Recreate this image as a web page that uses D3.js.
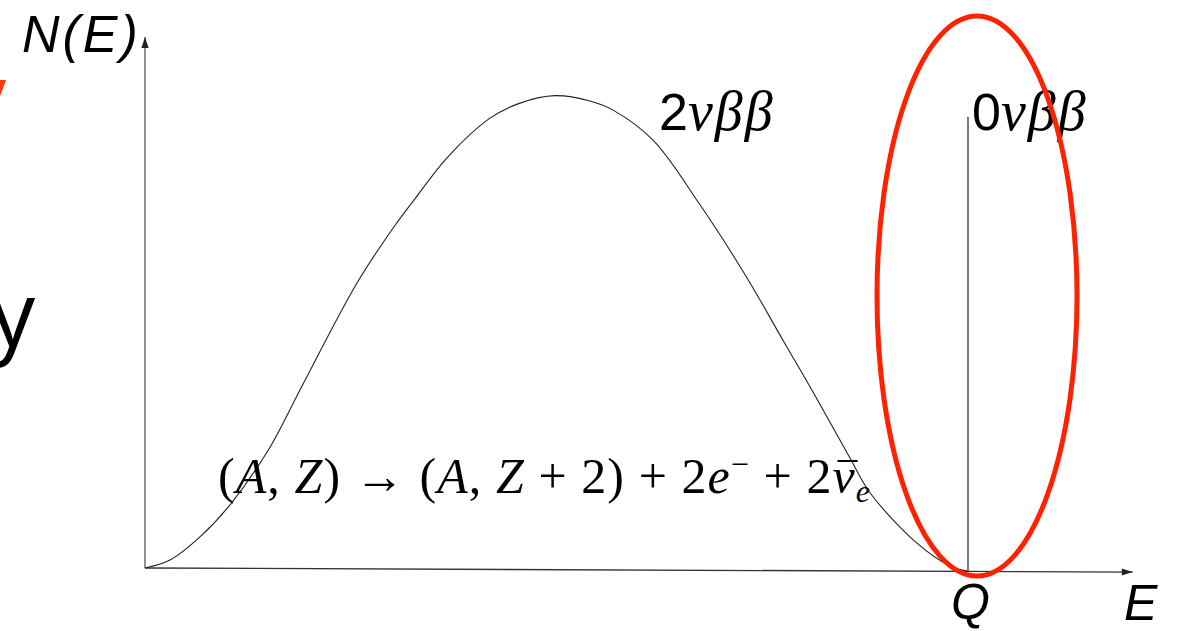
<!DOCTYPE html>
<html>
<head>
<meta charset="utf-8">
<script src="https://cdn.jsdelivr.net/npm/d3@7"></script>
<style>
  html, body { margin: 0; padding: 0; background: #fff; }
  svg { display: block; }
</style>
</head>
<body>
<svg id="chart" width="1178" height="631"></svg>
<script>
// 2nu spectrum, E in units of Q, N normalised to peak
const energy = [0, 0.0304, 0.0668, 0.1033, 0.1519, 0.1883, 0.2576, 0.3013, 0.3305, 0.3670, 0.4192, 0.4557, 0.4982,
    0.5407, 0.5687, 0.6173, 0.6744, 0.7145, 0.7388, 0.7752, 0.8117, 0.8566, 0.8809, 0.9380, 0.9781, 1.0]
const counts = [0, 0.017, 0.066, 0.134, 0.256, 0.377, 0.603, 0.719, 0.787, 0.868, 0.952, 0.984, 1.0,
    0.989, 0.970, 0.907, 0.771, 0.665, 0.596, 0.486, 0.377, 0.238, 0.165, 0.059, 0.011, 0]
const qValue = 1.0
const zeroNuHeight = 0.959
const axisMax = [1.2, 1.12]

// 0 plain, 1 italic, 2 superscript, 3 subscript, 4 italic with bar, 5 back to baseline
const eqParts = [
    ['(', 0], ['A', 1], [', ', 0], ['Z', 1], [') \u2192 (', 0], ['A', 1], [', ', 0], ['Z', 1],
    [' + 2) + 2', 0], ['e', 1], ['\u2212', 2], [' + 2', 5], ['\u03bd', 4], ['e', 3]
]

let svg = d3.select('#chart')
let x = d3.scaleLinear().domain([0, axisMax[0]]).range([0, 987.6])
let y = d3.scaleLinear().domain([0, 1]).range([0, -474])

svg.append('defs').selectAll('marker')
    .data(['arrow'])
    .join('marker')
    .attr('id', d => d)
    .attr('viewBox', '0 0 12 10')
    .attr('refX', 12)
    .attr('refY', 5)
    .attr('markerWidth', 12)
    .attr('markerHeight', 9)
    .attr('markerUnits', 'userSpaceOnUse')
    .attr('orient', 'auto')
    .append('path')
    .attr('d', 'M0,1L12,5L0,9Z')
    .attr('fill', '#222')

let g = svg.append('g')
    .attr('transform', `translate(145,568)skewY(${Math.atan(4 / 980) * 180 / Math.PI})`)

g.append('line')
    .attr('x1', x(0)).attr('y1', y(0))
    .attr('x2', x(axisMax[0])).attr('y2', y(0))
    .attr('stroke', '#333').attr('stroke-width', 1.3)
    .attr('marker-end', 'url(#arrow)')
g.append('line')
    .attr('x1', x(0)).attr('y1', y(0))
    .attr('x2', x(0)).attr('y2', y(axisMax[1]))
    .attr('stroke', '#555').attr('stroke-width', 1.3)
    .attr('marker-end', 'url(#arrow)')

let line = d3.line()
    .x(d => x(d[0]))
    .y(d => y(d[1]))
    .curve(d3.curveCatmullRom.alpha(0.5))

g.append('path')
    .datum(d3.zip(energy, counts))
    .attr('d', line)
    .attr('fill', 'none')
    .attr('stroke', '#222')
    .attr('stroke-width', 1.1)

g.append('line')
    .attr('x1', x(qValue)).attr('y1', y(0))
    .attr('x2', x(qValue)).attr('y2', y(zeroNuHeight))
    .attr('stroke', '#333').attr('stroke-width', 1.3)

// labels
let sans = 'Liberation Sans', serif = 'Liberation Serif'
svg.append('text').text('N(E)')
    .attr('x', 22).attr('y', 52)
    .attr('font-family', sans).attr('font-style', 'italic').attr('font-size', 52)
    .attr('letter-spacing', 3)
svg.append('text').text('E')
    .attr('x', 1124).attr('y', 620)
    .attr('font-family', sans).attr('font-style', 'italic').attr('font-size', 50)
svg.append('text').text('Q')
    .attr('x', 145 + x(qValue) - 17).attr('y', 619)
    .attr('font-family', sans).attr('font-style', 'italic').attr('font-size', 50)

function betaLabel(lead, px){
    let t = svg.append('text').attr('x', px).attr('y', 130)
    t.append('tspan').text(lead).attr('font-family', sans).attr('font-size', 52)
    t.append('tspan').text('\u03bd\u03b2\u03b2').attr('font-family', serif).attr('font-style', 'italic')
        .attr('font-size', 56).attr('letter-spacing', 2)
}
betaLabel('2', 659)
betaLabel('0', 972)

let eq = svg.append('text')
    .attr('x', 218).attr('y', 493)
    .attr('font-family', serif).attr('font-size', 50)
    .style('white-space', 'pre')
let barIndex = 0, seen = 0
eqParts.forEach(p => {
    let ts = eq.append('tspan').text(p[0])
    if (p[1] === 1 || p[1] === 4) ts.attr('font-style', 'italic')
    if (p[1] === 4) barIndex = seen
    if (p[1] === 2) ts.attr('font-size', 32).attr('dy', -18)
    if (p[1] === 5) ts.attr('dy', 18)
    if (p[1] === 3) ts.attr('font-size', 32).attr('dy', 9).attr('font-style', 'italic')
    seen += p[0].length
})
eq.attr('textLength', 652).attr('lengthAdjust', 'spacing')

let nuBox = eq.node().getExtentOfChar(barIndex)
svg.append('line')
    .attr('x1', nuBox.x + 5).attr('x2', nuBox.x + nuBox.width + 3)
    .attr('y1', 461).attr('y2', 461)
    .attr('stroke', '#000').attr('stroke-width', 2)

// red highlight around the 0nu peak
svg.append('ellipse')
    .attr('cx', 145 + x(qValue) + 9).attr('cy', 296)
    .attr('rx', 100).attr('ry', 280)
    .attr('fill', 'none')
    .attr('stroke', '#ff2200')
    .attr('stroke-width', 5)

// slide text cut off at the left edge
svg.append('text').text('y')
    .attr('x', -39).attr('y', 128)
    .attr('font-family', 'Open Sans').attr('font-size', 90)
    .attr('fill', '#ff3a0a')
svg.append('text').text('y')
    .attr('x', -10).attr('y', 346)
    .attr('font-family', 'Open Sans').attr('font-size', 90)
    .attr('fill', '#000')
</script>
</body>
</html>
